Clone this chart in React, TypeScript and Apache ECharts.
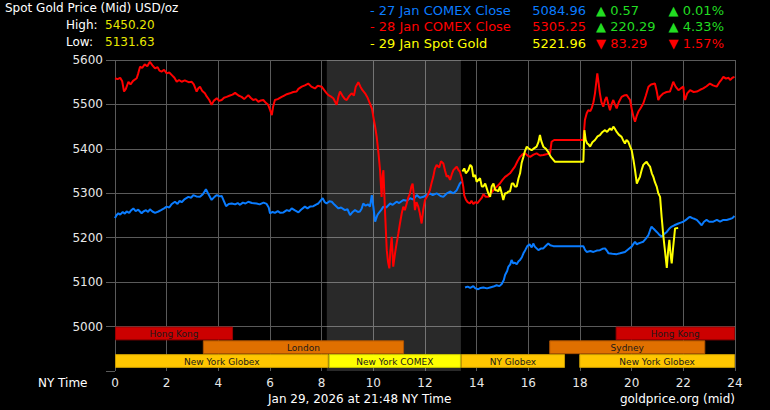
import React, { useEffect, useRef } from "react";
import * as echarts from "echarts";

// ---- data (hour of NY day, USD/oz) ----
const hourTicks = [0, 2, 4, 6, 8, 10, 12, 14, 16, 18, 20, 22, 24];
const priceTicks = [5000, 5100, 5200, 5300, 5400, 5500, 5600];

const comex27Part1: number[][] = [
  [0, 5244], [0.05, 5250], [0.13, 5255], [0.2, 5252], [0.3, 5258], [0.38, 5254], [0.45, 5259], [0.55, 5256], [0.63, 5262], [0.71, 5266], [0.8, 5260], [0.9, 5263], [1.03, 5255], [1.1, 5259], [1.2, 5262], [1.28, 5258], [1.35, 5264], [1.45, 5259], [1.55, 5256], [1.68, 5259], [1.78, 5262], [1.9, 5266], [2.0, 5270], [2.1, 5268], [2.2, 5276], [2.32, 5281], [2.42, 5276], [2.5, 5283], [2.58, 5280], [2.7, 5287], [2.84, 5292], [2.95, 5290], [3.03, 5296], [3.15, 5293], [3.29, 5292], [3.4, 5298], [3.52, 5309], [3.6, 5300], [3.74, 5285], [3.85, 5292], [3.94, 5296], [4.05, 5293], [4.13, 5294], [4.22, 5282], [4.3, 5271], [4.4, 5276], [4.52, 5277], [4.65, 5275], [4.75, 5278], [4.84, 5274], [4.95, 5279], [5.05, 5277], [5.16, 5281], [5.3, 5278], [5.48, 5277], [5.6, 5275], [5.75, 5279], [5.87, 5276], [5.95, 5268], [6.0, 5255], [6.1, 5258], [6.19, 5256], [6.3, 5260], [6.4, 5256], [6.52, 5257], [6.65, 5262], [6.75, 5260], [6.84, 5266], [6.95, 5262], [7.1, 5257], [7.2, 5263], [7.35, 5270], [7.45, 5266], [7.55, 5270], [7.68, 5271], [7.8, 5275], [7.87, 5277], [7.95, 5283], [8.04, 5289], [8.12, 5280], [8.19, 5277], [8.3, 5282], [8.39, 5281], [8.5, 5274], [8.65, 5266], [8.75, 5268], [8.9, 5262], [9.0, 5264], [9.1, 5251], [9.2, 5258], [9.29, 5262], [9.4, 5258], [9.48, 5259], [9.55, 5266], [9.61, 5277], [9.7, 5272], [9.8, 5275], [9.87, 5270], [9.94, 5296], [10.0, 5270], [10.07, 5236], [10.15, 5250], [10.2, 5255], [10.3, 5262], [10.39, 5270], [10.5, 5268], [10.65, 5277], [10.75, 5274], [10.9, 5281], [11.0, 5278], [11.16, 5285], [11.3, 5283], [11.42, 5289], [11.55, 5286], [11.68, 5296], [11.8, 5290], [11.94, 5292], [12.05, 5296], [12.19, 5300], [12.3, 5296], [12.45, 5300], [12.6, 5294], [12.71, 5292], [12.85, 5300], [12.97, 5304], [13.1, 5300], [13.23, 5307], [13.35, 5322], [13.42, 5326],
];

const comex27Part2: number[][] = [
  [13.55, 5088], [13.65, 5090], [13.75, 5087], [13.87, 5091], [13.95, 5086], [14.06, 5084], [14.15, 5087], [14.26, 5088], [14.4, 5086], [14.52, 5088], [14.65, 5090], [14.77, 5093], [14.88, 5091], [14.97, 5096], [15.05, 5105], [15.1, 5116], [15.18, 5125], [15.23, 5135], [15.3, 5140], [15.35, 5150], [15.42, 5142], [15.48, 5144], [15.55, 5140], [15.62, 5147], [15.68, 5150], [15.75, 5156], [15.81, 5165], [15.88, 5172], [15.96, 5181], [16.05, 5185], [16.13, 5178], [16.19, 5187], [16.25, 5180], [16.32, 5176], [16.39, 5172], [16.5, 5176], [16.58, 5176], [16.68, 5182], [16.77, 5187], [16.85, 5183], [16.97, 5181], [18.13, 5181], [18.2, 5172], [18.26, 5168], [18.4, 5170], [18.52, 5168], [18.65, 5171], [18.77, 5172], [18.87, 5175], [18.97, 5176], [19.05, 5170], [19.1, 5165], [19.25, 5164], [19.42, 5163], [19.55, 5165], [19.74, 5168], [19.87, 5174], [20.0, 5180], [20.07, 5186], [20.13, 5191], [20.2, 5185], [20.26, 5187], [20.35, 5189], [20.45, 5191], [20.55, 5198], [20.65, 5206], [20.72, 5218], [20.77, 5225], [20.85, 5220], [20.97, 5213], [21.05, 5208], [21.16, 5202], [21.25, 5208], [21.36, 5213], [21.45, 5220], [21.55, 5225], [21.65, 5228], [21.81, 5232], [21.9, 5234], [22.0, 5236], [22.1, 5240], [22.2, 5245], [22.26, 5247], [22.35, 5244], [22.45, 5242], [22.52, 5240], [22.6, 5235], [22.71, 5228], [22.8, 5236], [22.9, 5240], [23.0, 5236], [23.16, 5236], [23.3, 5240], [23.42, 5236], [23.55, 5240], [23.68, 5240], [23.8, 5242], [23.9, 5244], [23.98, 5249],
];

const comex28: number[][] = [
  [0, 5559], [0.1, 5557], [0.2, 5560], [0.28, 5552], [0.35, 5529], [0.42, 5535], [0.52, 5551], [0.6, 5545], [0.7, 5553], [0.84, 5559], [0.9, 5570], [0.97, 5585], [1.05, 5582], [1.15, 5590], [1.25, 5586], [1.35, 5596], [1.45, 5588], [1.55, 5581], [1.65, 5584], [1.72, 5576], [1.8, 5574], [1.9, 5578], [2.0, 5570], [2.1, 5572], [2.2, 5566], [2.3, 5560], [2.39, 5551], [2.48, 5555], [2.58, 5551], [2.7, 5554], [2.85, 5550], [2.97, 5551], [3.05, 5545], [3.16, 5529], [3.22, 5536], [3.29, 5540], [3.38, 5530], [3.48, 5525], [3.55, 5518], [3.65, 5510], [3.74, 5499], [3.82, 5508], [3.94, 5514], [4.03, 5508], [4.13, 5510], [4.22, 5515], [4.32, 5517], [4.45, 5520], [4.55, 5522], [4.65, 5526], [4.78, 5520], [4.9, 5517], [5.0, 5512], [5.16, 5521], [5.25, 5515], [5.35, 5510], [5.45, 5512], [5.55, 5506], [5.65, 5509], [5.74, 5510], [5.85, 5503], [5.93, 5499], [6.0, 5488], [6.07, 5476], [6.12, 5495], [6.19, 5510], [6.3, 5512], [6.45, 5517], [6.55, 5520], [6.65, 5523], [6.77, 5525], [6.9, 5528], [7.03, 5529], [7.1, 5535], [7.23, 5540], [7.35, 5543], [7.48, 5547], [7.6, 5540], [7.74, 5536], [7.85, 5542], [8.0, 5540], [8.1, 5532], [8.18, 5526], [8.26, 5521], [8.35, 5518], [8.45, 5514], [8.52, 5506], [8.58, 5499], [8.65, 5518], [8.71, 5529], [8.8, 5520], [8.9, 5512], [8.97, 5510], [9.05, 5518], [9.16, 5525], [9.25, 5520], [9.32, 5540], [9.42, 5550], [9.5, 5540], [9.58, 5532], [9.68, 5525], [9.78, 5515], [9.87, 5502], [9.95, 5490], [10.0, 5472], [10.07, 5450], [10.13, 5427], [10.2, 5390], [10.26, 5352], [10.32, 5292], [10.36, 5340], [10.39, 5352], [10.45, 5262], [10.52, 5172], [10.57, 5145], [10.62, 5131], [10.66, 5170], [10.71, 5202], [10.74, 5170], [10.77, 5135], [10.84, 5165], [10.9, 5187], [10.97, 5210], [11.03, 5232], [11.1, 5255], [11.16, 5270], [11.22, 5262], [11.29, 5277], [11.35, 5290], [11.42, 5300], [11.47, 5315], [11.52, 5322], [11.57, 5295], [11.61, 5262], [11.67, 5280], [11.74, 5270], [11.8, 5255], [11.87, 5232], [11.93, 5262], [12.0, 5285], [12.1, 5295], [12.19, 5307], [12.25, 5322], [12.32, 5337], [12.38, 5355], [12.45, 5364], [12.55, 5358], [12.62, 5372], [12.71, 5367], [12.78, 5350], [12.84, 5337], [12.9, 5340], [12.97, 5330], [13.05, 5345], [13.1, 5352], [13.18, 5357], [13.23, 5360], [13.3, 5352], [13.35, 5349], [13.42, 5335], [13.48, 5315], [13.52, 5295], [13.58, 5286], [13.65, 5280], [13.74, 5277], [13.8, 5283], [13.87, 5276], [13.94, 5280], [14.03, 5278], [14.13, 5285], [14.2, 5290], [14.26, 5298], [14.35, 5292], [14.45, 5292], [14.55, 5300], [14.65, 5307], [14.78, 5315], [14.9, 5322], [15.0, 5330], [15.1, 5337], [15.2, 5341], [15.29, 5345], [15.38, 5352], [15.48, 5360], [15.58, 5372], [15.68, 5382], [15.78, 5388], [15.87, 5390], [15.97, 5385], [16.07, 5382], [16.2, 5387], [16.32, 5390], [16.45, 5385], [16.58, 5386], [16.7, 5388], [16.84, 5390], [16.9, 5416], [17.0, 5420], [18.13, 5420], [18.19, 5465], [18.26, 5480], [18.32, 5487], [18.4, 5485], [18.45, 5491], [18.52, 5505], [18.58, 5525], [18.63, 5550], [18.67, 5570], [18.72, 5548], [18.77, 5525], [18.83, 5505], [18.9, 5495], [18.97, 5510], [19.03, 5517], [19.1, 5500], [19.16, 5487], [19.22, 5500], [19.29, 5510], [19.35, 5500], [19.42, 5491], [19.5, 5505], [19.61, 5517], [19.7, 5520], [19.81, 5521], [19.88, 5515], [19.94, 5510], [20.0, 5490], [20.07, 5472], [20.13, 5461], [20.2, 5475], [20.26, 5484], [20.35, 5492], [20.45, 5502], [20.55, 5520], [20.65, 5540], [20.75, 5545], [20.9, 5547], [20.97, 5530], [21.03, 5510], [21.1, 5518], [21.23, 5525], [21.35, 5528], [21.48, 5529], [21.55, 5540], [21.61, 5551], [21.7, 5540], [21.81, 5532], [21.9, 5536], [22.0, 5540], [22.04, 5515], [22.07, 5510], [22.15, 5525], [22.26, 5532], [22.4, 5528], [22.52, 5529], [22.65, 5533], [22.77, 5536], [22.9, 5541], [23.03, 5547], [23.15, 5543], [23.29, 5540], [23.4, 5550], [23.48, 5556], [23.55, 5562], [23.65, 5558], [23.75, 5560], [23.81, 5555], [23.9, 5560], [23.98, 5562],
];

const spot29: number[][] = [
  [13.45, 5349], [13.52, 5356], [13.58, 5345], [13.68, 5352], [13.75, 5364], [13.81, 5360], [13.87, 5337], [13.94, 5341], [14.0, 5326], [14.13, 5334], [14.2, 5315], [14.26, 5315], [14.33, 5322], [14.39, 5311], [14.45, 5300], [14.52, 5292], [14.58, 5315], [14.65, 5322], [14.72, 5307], [14.77, 5307], [14.84, 5304], [14.9, 5315], [14.97, 5300], [15.03, 5285], [15.1, 5300], [15.16, 5300], [15.23, 5304], [15.29, 5304], [15.36, 5322], [15.42, 5322], [15.48, 5315], [15.55, 5315], [15.62, 5334], [15.68, 5345], [15.74, 5368], [15.81, 5382], [15.87, 5395], [15.94, 5405], [16.03, 5400], [16.13, 5397], [16.22, 5401], [16.32, 5405], [16.39, 5415], [16.45, 5431], [16.5, 5418], [16.58, 5405], [16.68, 5400], [16.77, 5393], [16.87, 5382], [16.97, 5375], [17.03, 5371], [18.13, 5371], [18.17, 5442], [18.22, 5420], [18.28, 5412], [18.33, 5410], [18.39, 5405], [18.48, 5415], [18.58, 5420], [18.68, 5428], [18.77, 5431], [18.87, 5438], [18.97, 5442], [19.05, 5438], [19.16, 5446], [19.22, 5442], [19.29, 5450], [19.35, 5445], [19.42, 5438], [19.5, 5432], [19.61, 5427], [19.68, 5418], [19.74, 5412], [19.8, 5420], [19.87, 5416], [19.94, 5405], [20.0, 5397], [20.07, 5375], [20.13, 5352], [20.2, 5322], [20.26, 5330], [20.32, 5337], [20.4, 5355], [20.45, 5364], [20.52, 5368], [20.58, 5371], [20.64, 5365], [20.71, 5360], [20.78, 5345], [20.84, 5337], [20.9, 5325], [20.97, 5315], [21.03, 5300], [21.1, 5292], [21.16, 5247], [21.23, 5202], [21.3, 5165], [21.36, 5132], [21.41, 5170], [21.46, 5195], [21.5, 5165], [21.55, 5142], [21.6, 5175], [21.68, 5221], [21.8, 5222],
];

// market sessions (hours)
const sessionNames = ["Hong Kong", "Hong Kong", "London", "Sydney", "New York Globex", "New York COMEX", "NY Globex", "New York Globex"];
const sessionStart = [0, 19.38, 3.4, 16.81, 0, 8.27, 13.39, 17.97];
const sessionEnd = [4.57, 24, 11.19, 22.85, 8.27, 13.39, 17.42, 24];
const sessionRow = [0, 0, 1, 1, 2, 2, 2, 2];
const sessionKind = ["hk", "hk", "eu", "eu", "glx", "cmx", "glx", "glx"];

const comexShade = [8.2, 13.39];

const legendLabels = ["- 27 Jan COMEX Close", "- 28 Jan COMEX Close", "- 29 Jan Spot Gold"];
const legendPrices = ["5084.96", "5305.25", "5221.96"];
const legendChanges = ["▲ 0.57", "▲ 220.29", "▼ 83.29"];
const legendPercents = ["▲ 0.01%", "▲ 4.33%", "▼ 1.57%"];
const legendUp = [true, true, false];
const highValue = "5450.20";
const lowValue = "5131.63";

const FONT = '"DejaVu Sans", Verdana, sans-serif';
const BLUE = "#0a7cff";
const RED = "#ff0000";
const YELLOW = "#ffff00";
const GREEN = "#22dd22";
const kindFill: Record<string, string> = { hk: "#cc0000", eu: "#e07000", glx: "#ffc600", cmx: "#ffff00" };
const kindStroke: Record<string, string> = { hk: "#9a0000", eu: "#b05400", glx: "#c89a00", cmx: "#c8c800" };
const ROW_H = 31;

export default function App() {
  const ref = useRef<HTMLDivElement>(null);
  useEffect(() => {
    document.body.style.margin = "0";
    document.body.style.background = "#000";
    const chart = echarts.init(ref.current!, null, { renderer: "svg" });
    const lineColors = [BLUE, RED, YELLOW];
    const graphic: any[] = [
      { type: "text", left: 5, top: 2, style: { text: "Spot Gold Price (Mid) USD/oz", fill: "#ffffff", fontSize: 12, fontFamily: FONT } },
      { type: "text", x: 66, y: 25, style: { text: "High:", fill: "#ffffff", fontSize: 12, fontFamily: FONT, verticalAlign: "middle" } },
      { type: "text", x: 105, y: 25, style: { text: highValue, fill: "#e8e800", fontSize: 12, fontFamily: FONT, verticalAlign: "middle" } },
      { type: "text", x: 66, y: 42, style: { text: "Low:", fill: "#ffffff", fontSize: 12, fontFamily: FONT, verticalAlign: "middle" } },
      { type: "text", x: 105, y: 42, style: { text: lowValue, fill: "#e8e800", fontSize: 12, fontFamily: FONT, verticalAlign: "middle" } },
      { type: "text", x: 38, y: 383, style: { text: "NY Time", fill: "#ffffff", fontSize: 12, fontFamily: FONT, verticalAlign: "middle" } },
      { type: "text", x: 268, y: 399, style: { text: "Jan 29, 2026 at 21:48 NY Time", fill: "#ffffff", fontSize: 12, fontFamily: FONT, verticalAlign: "middle" } },
      { type: "text", x: 735, y: 399, style: { text: "goldprice.org (mid)", fill: "#ffffff", fontSize: 12, fontFamily: FONT, align: "right", verticalAlign: "middle" } },
    ];
    const rowYs = [10, 26.5, 43];
    legendLabels.forEach((lab, i) => {
      const chg = legendUp[i] ? GREEN : RED;
      graphic.push(
        { type: "text", x: 370, y: rowYs[i], style: { text: lab, fill: lineColors[i], fontSize: 13, fontFamily: FONT, verticalAlign: "middle" } },
        { type: "text", x: 586, y: rowYs[i], style: { text: legendPrices[i], fill: lineColors[i], fontSize: 13, fontFamily: FONT, align: "right", verticalAlign: "middle" } },
        { type: "text", x: 596, y: rowYs[i], style: { text: legendChanges[i], fill: chg, fontSize: 13, fontFamily: FONT, verticalAlign: "middle" } },
        { type: "text", x: 724, y: rowYs[i], style: { text: legendPercents[i], fill: chg, fontSize: 13, fontFamily: FONT, align: "right", verticalAlign: "middle" } },
      );
    });

    const sessionData = sessionNames.map((_, i) => [sessionStart[i], sessionEnd[i], sessionRow[i], 5000 - sessionRow[i] * ROW_H]);

    const lineSeries = (data: number[][], color: string, z: number) => ({
      type: "line",
      data,
      showSymbol: false,
      symbol: "none",
      lineStyle: { color, width: 2 },
      z,
      silent: true,
    });

    chart.setOption({
      animation: false,
      backgroundColor: "#000000",
      graphic,
      grid: { left: 115, right: 35, top: 60, bottom: 39 },
      xAxis: {
        type: "value",
        min: hourTicks[0],
        max: hourTicks[hourTicks.length - 1],
        interval: 2,
        axisLine: { show: false },
        axisTick: { show: false },
        axisLabel: { color: "#e8e8e8", fontSize: 12, fontFamily: FONT, margin: 6 },
        splitLine: { show: true, lineStyle: { color: "#5a5a5a", width: 1 } },
      },
      yAxis: {
        type: "value",
        min: 4900,
        max: priceTicks[priceTicks.length - 1],
        interval: 100,
        axisLine: { show: false },
        axisTick: { show: true, length: 9, lineStyle: { color: "#5a5a5a" } },
        axisLabel: {
          color: "#e8e8e8",
          fontSize: 12,
          fontFamily: FONT,
          margin: 12,
          formatter: (v: number) => (priceTicks.indexOf(v) >= 0 ? String(v) : ""),
        },
        splitLine: { show: true, showMinLine: false, lineStyle: { color: "#5a5a5a", width: 1 } },
      },
      series: [
        {
          type: "line",
          data: [],
          z: 1,
          silent: true,
          markArea: {
            silent: true,
            itemStyle: { color: "rgba(255,255,255,0.16)" },
            data: [[{ xAxis: comexShade[0], yAxis: 4900 }, { xAxis: comexShade[1], yAxis: 5600 }]],
          },
        },
        {
          type: "custom",
          z: 3,
          silent: true,
          data: sessionData,
          encode: { x: [0, 1], y: 3 },
          renderItem: (params: any, api: any) => {
            const i = params.dataIndex;
            const s = api.value(0);
            const e = api.value(1);
            const row = api.value(2);
            const p1 = api.coord([s, 5000 - row * ROW_H]);
            const p2 = api.coord([e, 5000 - (row + 1) * ROW_H]);
            const k = sessionKind[i];
            return {
              type: "group",
              children: [
                {
                  type: "rect",
                  shape: { x: p1[0] + 0.5, y: p1[1] + 0.5, width: p2[0] - p1[0] - 1, height: p2[1] - p1[1] - 1 },
                  style: { fill: kindFill[k], stroke: kindStroke[k], lineWidth: 1 },
                },
                {
                  type: "text",
                  style: {
                    text: sessionNames[i],
                    x: (p1[0] + p2[0]) / 2,
                    y: (p1[1] + p2[1]) / 2 + 0.5,
                    align: "center",
                    verticalAlign: "middle",
                    fill: "#1a1a1a",
                    fontSize: 9,
                    fontFamily: FONT,
                  },
                },
              ],
            };
          },
        },
        lineSeries(comex27Part1, BLUE, 4),
        lineSeries(comex27Part2, BLUE, 4),
        lineSeries(comex28, RED, 5),
        lineSeries(spot29, YELLOW, 6),
      ],
    });
    return () => chart.dispose();
  }, []);
  return <div ref={ref} style={{ position: "absolute", left: 0, top: 0, width: 770, height: 410, background: "#000" }} />;
}
